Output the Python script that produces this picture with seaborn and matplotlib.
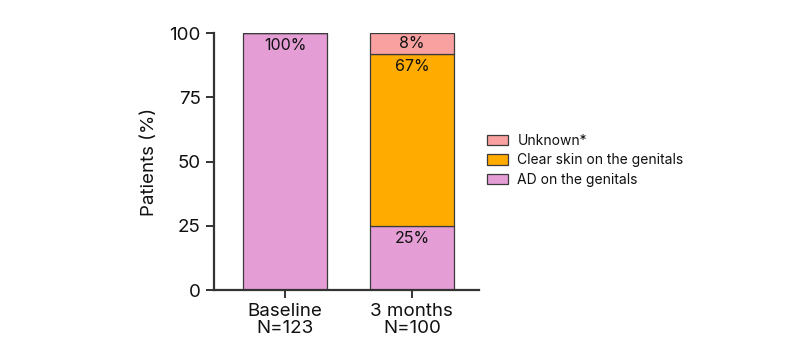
import pandas as pd
import matplotlib.pyplot as plt
import seaborn as sns
from matplotlib.patches import Patch

sns.set_style("ticks")
plt.rcParams['font.family'] = ['Inter', 'DejaVu Sans']
plt.rcParams['text.color'] = '#111111'
plt.rcParams['axes.labelcolor'] = '#111111'
plt.rcParams['xtick.labelcolor'] = '#111111'
plt.rcParams['ytick.labelcolor'] = '#111111'

timepoints = ["Baseline\nN=123", "3 months\nN=100"]
ad_genitals = [100, 25]
clear_skin = [0, 67]
unknown = [0, 8]

colors = {"AD": "#E59ED5", "Clear": "#FFAB00", "Unknown": "#F9A0A0"}
edge = "#3a3a3a"

df = pd.DataFrame({"time": timepoints, "AD": ad_genitals,
                   "Clear": clear_skin, "Unknown": unknown})

fig = plt.figure(figsize=(8, 3.6), dpi=100)
ax = fig.add_axes([0.2675, 0.1944, 0.3313, 0.7139])

bottom = [0] * len(df)
for col in ["AD", "Clear", "Unknown"]:
    sns.barplot(data=df, x="time", y=col, bottom=bottom, color=colors[col],
                width=0.66, edgecolor=edge, linewidth=0.9, saturation=1, ax=ax)
    for i, (b, v) in enumerate(zip(bottom, df[col])):
        if v > 0:
            top = b + v
            if v < 12:
                ypos = b + v / 2
                va = "center"
            else:
                ypos = top - 2
                va = "top"
            ax.text(i, ypos, f"{v}%", ha="center", va=va, fontsize=11.5)
    bottom = [b + v for b, v in zip(bottom, df[col])]

ax.set_xlim(-0.56, 1.53)
ax.set_ylim(0, 100)
ax.set_yticks([0, 25, 50, 75, 100])
ax.set_xlabel("")
ax.set_ylabel("Patients (%)", fontsize=13.5, labelpad=8)
ax.tick_params(axis="both", labelsize=13.5, width=1.4, length=6, color="#333333")
sns.despine(ax=ax)
for s in ["left", "bottom"]:
    ax.spines[s].set_linewidth(1.6)
    ax.spines[s].set_color("#333333")
for lbl in ax.get_xticklabels():
    lbl.set_linespacing(0.95)

handles = [Patch(facecolor=colors["Unknown"], edgecolor=edge, linewidth=0.9, label="Unknown*"),
           Patch(facecolor=colors["Clear"], edgecolor=edge, linewidth=0.9, label="Clear skin on the genitals"),
           Patch(facecolor=colors["AD"], edgecolor=edge, linewidth=0.9, label="AD on the genitals")]
fig.legend(handles=handles, loc="center left", bbox_to_anchor=(0.593, 0.555), frameon=False,
           fontsize=10, handlelength=1.5, handleheight=0.8, handletextpad=0.7, labelspacing=0.4)

fig.savefig("out.png", dpi=100)
